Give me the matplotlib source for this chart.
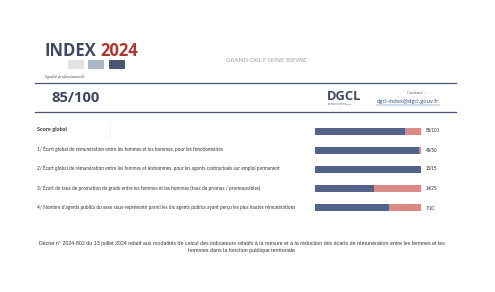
import matplotlib
matplotlib.use("Agg")
import matplotlib.pyplot as plt
from matplotlib.patches import FancyBboxPatch

# ---- data ----
row_labels = [
    "Score global",
    "1/ Écart global de rémunération entre les femmes et les hommes, pour les fonctionnaires",
    "2/ Écart global de rémunération entre les femmes et leshommes, pour les agents contractuels sur emploi permanent",
    "3/ Écart de taux de promotion de grade entre les femmes et les hommes (taux de promus / promouvables)",
    "4/ Nombre d'agents publics du sexe sous-représenté parmi les dix agents publics ayant perçu les plus hautes rémunérations",
]
scores = [85, 49, 15, 14, 7]
max_scores = [100, 50, 15, 25, 10]
score_text = ["85/100", "49/50", "15/15", "14/25", "7/10"]
title_index = "INDEX"
title_year = "2024"
subtitle = "Egalité professionnelle"
collectivite = "GRAND-ORLY SEINE BIEVRE"
global_score = "85/100"
contact_label = "Contact :"
contact_mail = "dgcl-index@dgcl.gouv.fr"
footer = ("Décret n° 2024-802 du 13 juillet 2024 relatif aux modalités de calcul des indicateurs relatifs à la mesure et à la réduction des écarts de rémunération entre les femmes et les\n"
          "hommes dans la fonction publique territoriale")

W, H = 495, 292
BLUE = "#53638a"
RED = "#d98a84"
DARK = "#3e4862"

fig = plt.figure(figsize=(W / 100, H / 100), dpi=100)
fig.patch.set_facecolor("white")

# overlay axes in pixel coordinates
ov = fig.add_axes([0, 0, 1, 1])
ov.set_xlim(0, W)
ov.set_ylim(H, 0)
ov.axis("off")

# header
ov.text(45, 56.5, title_index, fontsize=12, fontweight="bold", color=DARK,
        family="Open Sans", va="baseline", ha="left")
ov.text(100, 56.5, title_year, fontsize=12, fontweight="bold", color="#b0342f",
        family="Open Sans", va="baseline", ha="left")
for x0, c in [(68, "#e3e3e3"), (88, "#aab5c7"), (109, "#4b5672")]:
    ov.add_patch(FancyBboxPatch((x0 + 1, 61), 14, 7, boxstyle="round,pad=1",
                                facecolor=c, edgecolor="none"))
ov.text(45, 77, subtitle, fontsize=2.9, style="italic", color="#444444",
        family="Open Sans", va="center", ha="left")
ov.text(266, 61, collectivite, fontsize=4.6, color="#9a9a9a",
        family="Open Sans", va="center", ha="center")
ov.plot([35, 456], [82.5, 82.5], color="#4a5670", lw=0.9)
ov.plot([35, 456], [112, 112], color="#4a5670", lw=0.9)
ov.text(51, 98.5, global_score, fontsize=10.7, fontweight="bold", color=DARK,
        family="Open Sans", va="center", ha="left")
ov.text(327, 96, "DGCL", fontsize=9.3, fontweight="bold", color=DARK,
        family="Open Sans", va="center", ha="left")
ov.text(328, 104, "Direction générale\ndes collectivités locales", fontsize=1.5,
        color=DARK, family="Open Sans", va="center", ha="left", linespacing=1.0)
ov.text(416, 93, contact_label, fontsize=3.2, color="#555555",
        family="Open Sans", va="center", ha="center")
ov.text(408, 102, contact_mail, fontsize=4.1, color="#2a4a90",
        family="Open Sans", va="center", ha="center")
ov.plot([376, 440], [104.5, 104.5], color="#2a4a90", lw=0.3)

# rows text
row_y = [130, 149, 168, 188, 207.5]
for i, (lab, y) in enumerate(zip(row_labels, row_y)):
    if i == 0:
        ov.text(37, y, lab, fontsize=4.0, fontweight="bold", color="#333333",
                family="Lato", va="center", ha="left")
    else:
        ov.text(37, y, lab, fontsize=3.38, color="#333333",
                family="Lato", va="center", ha="left")
for t, y in zip(score_text, row_y):
    ov.text(426, y + 1, t, fontsize=3.3, color="#333333",
            family="Liberation Sans", va="center", ha="left")

ov.plot([110, 110], [120, 138], color="#eeeeee", lw=0.5)

# footer
ov.text(241.5, 247, footer, fontsize=3.8, color="#333333", family="Liberation Sans",
        va="center", ha="center", linespacing=1.55)

# bar axes
top, step = 121.5, 19.2
bx0, bx1 = 315, 421
bax = fig.add_axes([bx0 / W, 1 - (top + 5 * step) / H, (bx1 - bx0) / W, 5 * step / H])
fr = [s / m for s, m in zip(scores, max_scores)]
rest = [1 - f for f in fr]
ypos = list(range(len(scores)))
bax.barh(ypos, fr, height=0.37, color=BLUE, edgecolor="none")
bax.barh(ypos, rest, left=fr, height=0.37, color=RED, edgecolor="none")
bax.set_xlim(0, 1)
bax.set_ylim(4.5, -0.5)
bax.axis("off")

fig.savefig("out.png", dpi=100, facecolor="white")
